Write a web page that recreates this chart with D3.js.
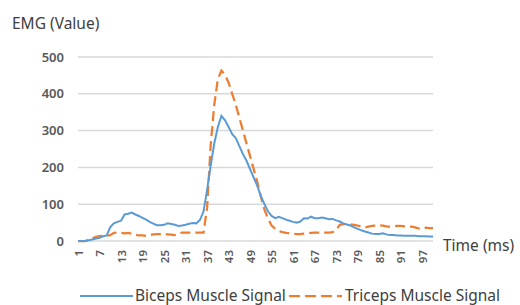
<!DOCTYPE html>
<html>
<head>
<meta charset="utf-8">
<script src="https://cdn.jsdelivr.net/npm/d3@7"></script>
<style>
  body { margin: 0; background: #fff; }
  svg text { font-family: "Noto Sans", "Open Sans", sans-serif; }
</style>
</head>
<body>
<svg id="chart" width="520" height="305"></svg>
<script>
// time index 1..100
var times = d3.range(1, 101);

var biceps = [0, 0, 0, 2, 4, 7, 9, 13, 15, 38,
  48, 52, 55, 72, 74, 77, 72, 68, 63, 58,
  52, 47, 43, 43, 44, 48, 46, 44, 41, 42,
  44, 47, 49, 48, 57, 80, 139, 205, 265, 310,
  340, 328, 310, 290, 280, 258, 236, 218, 195, 172,
  150, 122, 100, 80, 68, 62, 66, 62, 58, 55,
  52, 50, 53, 62, 61, 66, 62, 62, 64, 62,
  59, 60, 56, 53, 48, 45, 42, 37, 33, 29,
  26, 23, 20, 19, 19, 21, 18, 16, 16, 15,
  15, 14, 14, 14, 14, 13, 13, 13, 12, 12];

var triceps = [0, 0, 0, 3, 7, 11, 13, 14, 14, 16,
  22, 23, 22, 21, 22, 20, 17, 15, 15, 14,
  16, 18, 19, 19, 19, 18, 17, 16, 20, 23,
  23, 23, 23, 23, 23, 23, 90, 260, 370, 440,
  463, 452, 430, 400, 370, 335, 300, 265, 230, 195,
  160, 120, 85, 60, 42, 33, 27, 24, 22, 21,
  20, 19, 19, 20, 21, 22, 23, 23, 23, 23,
  23, 24, 30, 44, 46, 46, 45, 44, 42, 39,
  37, 39, 41, 42, 43, 42, 40, 39, 40, 41,
  41, 40, 39, 39, 37, 34, 33, 36, 35, 35];

var yTicks = [0, 100, 200, 300, 400, 500];
var xTickLabels = times.filter(function(t) { return (t - 1) % 6 === 0; });

var svg = d3.select("#chart");
var plotL = 78, plotR = 433, plotT = 57, plotB = 241;

var x = d3.scalePoint().domain(times).range([plotL, plotR]);
var y = d3.scaleLinear().domain([0, 500]).range([plotB, plotT]);

// gridlines
svg.append("g")
  .selectAll("line")
  .data(yTicks)
  .enter().append("line")
  .attr("x1", plotL).attr("x2", plotR)
  .attr("y1", function(d) { return y(d); })
  .attr("y2", function(d) { return y(d); })
  .attr("stroke", "#d9d9d9")
  .attr("stroke-width", 1.5);

// y axis labels
var yAxis = svg.append("g")
  .attr("transform", "translate(" + (plotL - 14) + ",0)")
  .call(d3.axisLeft(y).tickValues(yTicks).tickSize(0).tickPadding(0));
yAxis.select(".domain").remove();
yAxis.selectAll("text")
  .style("font-size", "13px")
  .attr("fill", "#595959")
  .style("font-weight", "600");

// x axis labels, rotated
var xAxis = svg.append("g")
  .attr("transform", "translate(0," + (plotB + 9) + ")")
  .call(d3.axisBottom(x).tickValues(xTickLabels).tickSize(0).tickPadding(0));
xAxis.select(".domain").remove();
xAxis.selectAll("text")
  .attr("transform", "rotate(-90)")
  .attr("x", 0).attr("y", 0).attr("dy", "0.35em")
  .style("text-anchor", "end")
  .style("font-size", "11.5px")
  .attr("fill", "#595959")
  .style("font-weight", "600");

var line = function(vals) {
  return d3.line()
    .x(function(d, i) { return x(times[i]); })
    .y(function(d) { return y(d); })(vals);
};

svg.append("path")
  .attr("d", line(triceps))
  .attr("fill", "none")
  .attr("stroke", "#ed7d31")
  .attr("stroke-width", 2.25)
  .attr("stroke-dasharray", "10,5");

svg.append("path")
  .attr("d", line(biceps))
  .attr("fill", "none")
  .attr("stroke", "#5b9bd5")
  .attr("stroke-width", 2);

// titles
svg.append("text").attr("x", 12).attr("y", 29)
  .style("font-size", "15.5px").attr("fill", "#404040").text("EMG (Value)");
svg.append("text").attr("x", 443).attr("y", 251)
  .style("font-size", "15.5px").attr("fill", "#404040").text("Time (ms)");

// legend
var leg = svg.append("g");
leg.append("line").attr("x1", 80).attr("x2", 133).attr("y1", 296).attr("y2", 296)
  .attr("stroke", "#5b9bd5").attr("stroke-width", 2);
leg.append("text").attr("x", 135).attr("y", 301)
  .style("font-size", "15.5px").attr("fill", "#404040").text("Biceps Muscle Signal");
leg.append("line").attr("x1", 289).attr("x2", 342).attr("y1", 296).attr("y2", 296)
  .attr("stroke", "#ed7d31").attr("stroke-width", 2.25).attr("stroke-dasharray", "11,5");
leg.append("text").attr("x", 345).attr("y", 301)
  .style("font-size", "15.5px").attr("fill", "#404040").text("Triceps Muscle Signal");
</script>
</body>
</html>
